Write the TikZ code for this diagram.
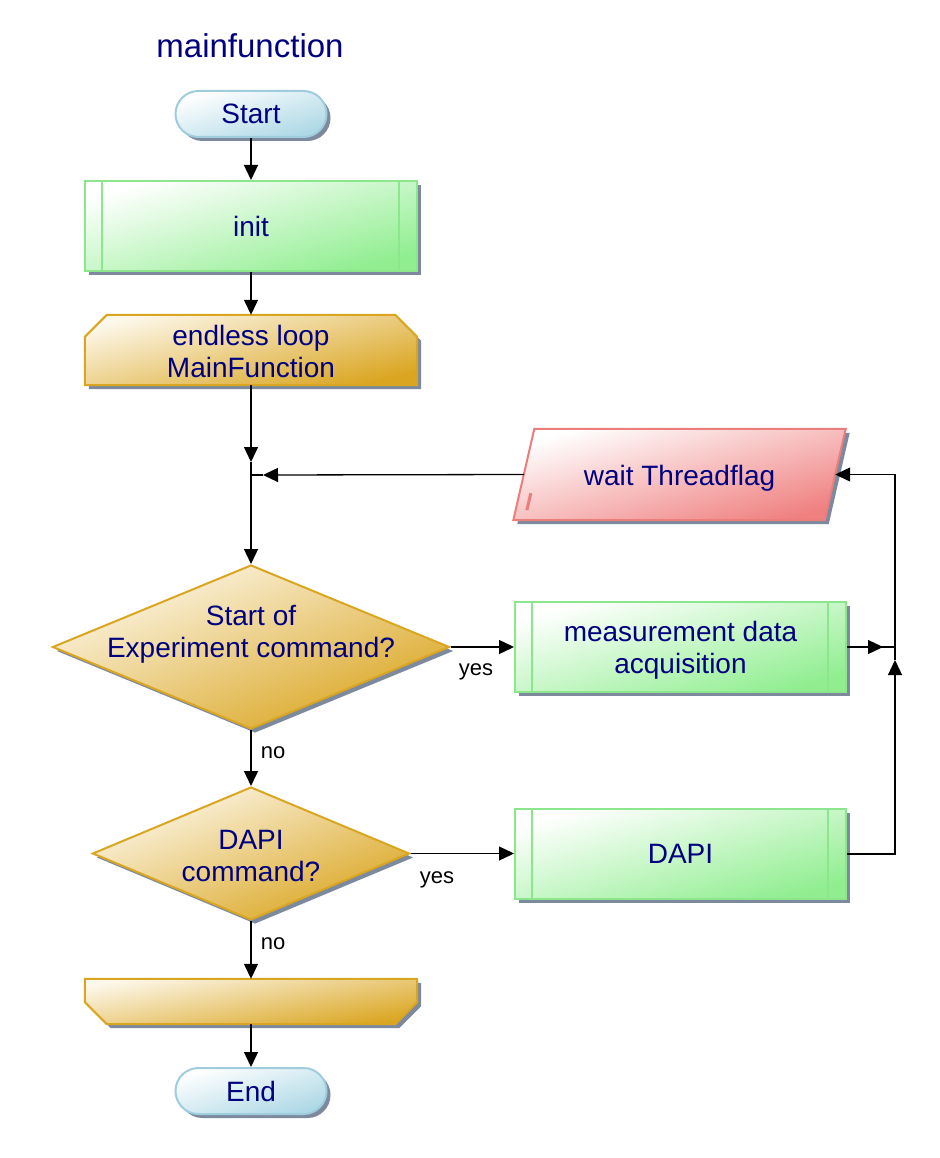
\documentclass[tikz,border=0pt]{standalone}
\usepackage{fontspec}
\setmainfont{Liberation Sans}
\usetikzlibrary{arrows.meta,shapes.geometric,shapes.misc,shadows,backgrounds,calc}
\definecolor{txt}{RGB}{0,0,128}
\definecolor{bluef}{RGB}{173,216,230}
\definecolor{blueb}{RGB}{160,205,222}
\definecolor{greenf}{RGB}{144,238,144}
\definecolor{greenb}{RGB}{140,230,140}
\definecolor{goldf}{RGB}{218,165,32}
\definecolor{goldl}{RGB}{253,248,235}
\definecolor{redf}{RGB}{240,128,128}
\definecolor{redb}{RGB}{236,125,125}
\definecolor{shadowc}{RGB}{125,138,158}
\begin{document}
\begin{tikzpicture}[x=1pt,y=-1pt,
  mytext/.style={text=txt,font=\fontsize{28}{32}\selectfont,align=center},
  lab/.style={text=black,font=\fontsize{22}{26}\selectfont,inner sep=0pt},
  shad/.style={drop shadow={shadow xshift=4pt,shadow yshift=-4pt,fill=shadowc,opacity=1}},
  term/.style={rounded rectangle,minimum width=151,minimum height=46,inner sep=0pt,
    draw=blueb,line width=2pt,top color=white,bottom color=bluef,shading angle=17,shad,mytext},
  proc/.style={rectangle,minimum width=331,minimum height=90,inner sep=0pt,
    draw=greenb,line width=2pt,top color=white,bottom color=greenf,shading angle=16,shad,mytext},
  dec/.style={diamond,inner sep=0pt,draw=goldf,line width=2pt,
    top color=goldl,bottom color=goldf,shading angle=22,shad},
  ghost/.style={rectangle,inner sep=0pt,mytext},
  conn/.style={line width=1.3pt,black},
  arr/.style={conn,-{Triangle[length=15pt,width=14pt]}}
]
\useasboundingbox (0,0) rectangle (939,1158);

\node[text=txt,font=\fontsize{33}{38}\selectfont,anchor=base,inner sep=0pt] (title) at (250,58) {mainfunction};

\node[term] (start) at (251,114) {Start};
\node[proc,minimum width=332] (init) at (251,226) {\raisebox{-2pt}{init}};
\node[ghost,minimum width=332,minimum height=70] (loop) at (251,350) {};
\node[mytext,inner sep=0pt] (loopt) at (251,351) {endless loop\\MainFunction};
\node[ghost,minimum width=311,minimum height=91] (wait) at (679.5,474.5) {};
\node[mytext,inner sep=0pt] (waitt) at (679.5,478) {wait Threadflag};
\node[dec,minimum width=397,minimum height=164] (d1) at (251,647) {};
\node[mytext,inner sep=0pt] (d1t) at (251,634) {Start of\\Experiment command?};
\node[proc] (meas) at (680.5,647) {};
\node[mytext,inner sep=0pt] (meast) at (680.5,650) {measurement data\\acquisition};
\node[dec,minimum width=317,minimum height=133] (d2) at (251,853.5) {};
\node[mytext,inner sep=0pt] (d2t) at (251,856) {DAPI\\command?};
\node[proc] (dapi) at (680.5,854) {\raisebox{-2pt}{DAPI}};
\node[ghost,minimum width=332,minimum height=45] (endl) at (251,1001.5) {};
\node[term] (end) at (251,1091) {End};

% inner lines of process boxes
\foreach \n in {init,meas,dapi}{
  \draw[greenb,line width=1.5pt] ($(\n.north west)+(18,0)$) -- ($(\n.south west)+(18,0)$);
  \draw[greenb,line width=1.5pt] ($(\n.north east)+(-19,0)$) -- ($(\n.south east)+(-19,0)$);
}

\begin{scope}[on background layer]
  % loop start (chamfered top)
  \fill[shadowc,transform canvas={shift={(4pt,-4pt)}}]
    (loop.south west) -- ($(loop.north west)+(0,22)$) -- ($(loop.north west)+(22,0)$)
    -- ($(loop.north east)+(-22,0)$) -- ($(loop.north east)+(0,22)$) -- (loop.south east) -- cycle;
  \path[top color=goldl,bottom color=goldf,shading angle=14,draw=goldf,line width=2pt]
    (loop.south west) -- ($(loop.north west)+(0,22)$) -- ($(loop.north west)+(22,0)$)
    -- ($(loop.north east)+(-22,0)$) -- ($(loop.north east)+(0,22)$) -- (loop.south east) -- cycle;
  % loop end (chamfered bottom)
  \fill[shadowc,transform canvas={shift={(4pt,-4pt)}}]
    (endl.north west) -- ($(endl.south west)+(0,-22)$) -- ($(endl.south west)+(22,0)$)
    -- ($(endl.south east)+(-22,0)$) -- ($(endl.south east)+(0,-22)$) -- (endl.north east) -- cycle;
  \path[top color=goldl,bottom color=goldf,shading angle=10,draw=goldf,line width=2pt]
    (endl.north west) -- ($(endl.south west)+(0,-22)$) -- ($(endl.south west)+(22,0)$)
    -- ($(endl.south east)+(-22,0)$) -- ($(endl.south east)+(0,-22)$) -- (endl.north east) -- cycle;
  % wait (parallelogram)
  \fill[shadowc,transform canvas={shift={(4pt,-4pt)}}]
    ($(wait.north west)+(10.5,0)$) -- ($(wait.north east)+(10.5,0)$)
    -- ($(wait.south east)+(-10.5,0)$) -- ($(wait.south west)+(-10.5,0)$) -- cycle;
  \path[top color=white,bottom color=redf,shading angle=16,draw=redb,line width=2pt]
    ($(wait.north west)+(10.5,0)$) -- ($(wait.north east)+(10.5,0)$)
    -- ($(wait.south east)+(-10.5,0)$) -- ($(wait.south west)+(-10.5,0)$) -- cycle;
  \draw[redb,line width=3pt] ($(wait.south west)+(7,-27)$) -- ($(wait.south west)+(3,-10)$);
\end{scope}

% connectors
\coordinate (jA) at (251,475);
\coordinate (jAu) at (251,462);
\coordinate (jAr) at (263,475);
\coordinate (jB) at (895,647);
\coordinate (jBl) at (883,647);
\coordinate (jBb) at (895,660);

\draw[arr] (start.south) -- (init.north);
\draw[arr] (init.south) -- (loop.north);
\draw[arr] (loop.south) -- (jAu);
\draw[conn] (jAu) -- (jA);
\draw[arr] (wait.west) -- (jAr);
\draw[conn] (jAr) -- (jA);
\draw[arr] (jA) -- (d1.north);
\draw[arr] (d1.east) -- (meas.west);
\draw[arr] (d1.south) -- (d2.north);
\draw[arr] (d2.east) -- (d2.east -| dapi.west);
\draw[arr] (d2.south) -- (endl.north);
\draw[arr] (endl.south) -- (end.north);
\draw[conn] (meas.east) -- (jB);
\draw[arr] (meas.east) -- (jBl);
\draw[arr] (dapi.east) -| (jBb);
\draw[conn] (jBb) -- (jB);
\draw[arr] (jB) |- (wait.east);

\node[lab] (y1) at (476,672) {yes};
\node[lab] (y2) at (437,880) {yes};
\node[lab] (n1) at (273,753) {no};
\node[lab] (n2) at (273,944) {no};
\end{tikzpicture}
\end{document}
